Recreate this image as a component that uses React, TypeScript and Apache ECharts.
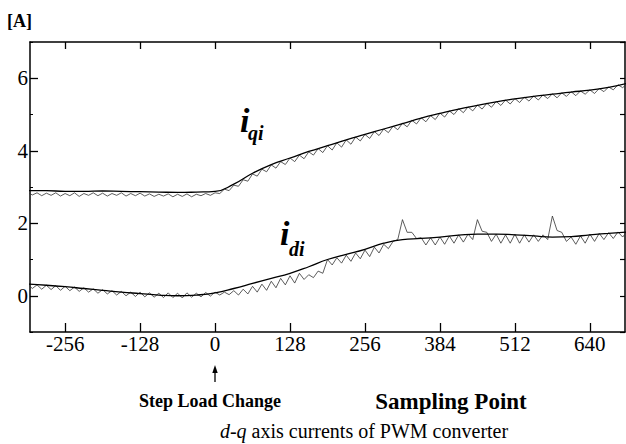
import React, { useEffect, useRef } from "react";
import * as echarts from "echarts";

// Sampling points for the reference (smooth) curves
const X_SMOOTH = [-320, -288, -256, -224, -192, -160, -128, -96, -64, -32, 0, 32, 64, 96, 128, 160, 192, 224, 256, 288, 320, 352, 384, 416, 448, 480, 512, 544, 576, 608, 640, 672, 704];

const IQ_SMOOTH = [2.90, 2.90, 2.88, 2.88, 2.89, 2.88, 2.87, 2.86, 2.85, 2.86, 2.88, 3.08, 3.38, 3.62, 3.80, 3.98, 4.14, 4.30, 4.45, 4.60, 4.75, 4.90, 5.03, 5.15, 5.25, 5.35, 5.43, 5.50, 5.56, 5.62, 5.67, 5.75, 5.86];

const ID_SMOOTH = [0.32, 0.29, 0.25, 0.20, 0.15, 0.10, 0.06, 0.02, 0.00, 0.02, 0.08, 0.20, 0.34, 0.48, 0.62, 0.80, 1.00, 1.14, 1.28, 1.45, 1.55, 1.58, 1.62, 1.67, 1.70, 1.70, 1.68, 1.65, 1.62, 1.63, 1.68, 1.72, 1.76];

// Measured (noisy) curves, sampled every 8 points from -320
const NOISY_START = -320;
const NOISY_STEP = 8;

const IQ_NOISY = [
  2.85, 2.78, 2.84, 2.76, 2.83, 2.77, 2.84, 2.75, 2.82, 2.76,
  2.84, 2.74, 2.82, 2.77, 2.84, 2.76, 2.83, 2.75, 2.82, 2.77,
  2.84, 2.75, 2.82, 2.76, 2.83, 2.75, 2.81, 2.74, 2.80, 2.75,
  2.81, 2.73, 2.80, 2.74, 2.81, 2.73, 2.80, 2.76, 2.82, 2.77,
  2.84,
  2.82, 2.94, 2.90, 3.05, 3.02, 3.20, 3.16, 3.36, 3.30, 3.49,
  3.42, 3.61, 3.52, 3.70, 3.62, 3.80, 3.70, 3.88, 3.78, 3.97,
  3.88, 4.06, 3.95, 4.14, 4.02, 4.22, 4.10, 4.30, 4.18, 4.38,
  4.27, 4.45, 4.34, 4.53, 4.42, 4.60, 4.50, 4.68, 4.58, 4.76,
  4.66, 4.84, 4.74, 4.91, 4.80, 4.97, 4.86, 5.04, 4.93, 5.10,
  5.00, 5.16, 5.05, 5.21, 5.10, 5.26, 5.15, 5.31, 5.20, 5.36,
  5.25, 5.40, 5.29, 5.44, 5.33, 5.48, 5.37, 5.51, 5.40, 5.54,
  5.44, 5.57, 5.46, 5.60, 5.50, 5.63, 5.52, 5.65, 5.56, 5.68,
  5.58, 5.72, 5.63, 5.76, 5.68, 5.82, 5.74, 5.86,
];

const ID_NOISY = [
  0.32, 0.20, 0.30, 0.18, 0.29, 0.17, 0.28, 0.15, 0.26, 0.14,
  0.24, 0.12, 0.22, 0.10, 0.19, 0.07, 0.17, 0.05, 0.14, 0.02,
  0.12, 0.00, 0.10, -0.02, 0.10, -0.03, 0.08, -0.04, 0.07, -0.05,
  0.08, -0.05, 0.07, -0.06, 0.08, -0.04, 0.07, -0.03, 0.09, -0.01,
  0.10,
  0.02, 0.10, 0.03, 0.14, 0.02, 0.18, 0.05, 0.26, 0.10, 0.32,
  0.15, 0.40, 0.22, 0.48, 0.30, 0.55, 0.35, 0.62, 0.45, 0.58,
  0.50, 0.68, 0.62, 1.00, 0.85, 1.05, 0.90, 1.12, 0.95, 1.18,
  1.02, 1.26, 1.08, 1.34, 1.18, 1.42, 1.30, 1.50, 1.55, 2.10,
  1.75, 1.75, 1.58, 1.60, 1.40, 1.60, 1.40, 1.62, 1.42, 1.65,
  1.45, 1.68, 1.48, 1.70, 1.55, 2.10, 1.78, 1.75, 1.50, 1.70,
  1.45, 1.68, 1.45, 1.70, 1.45, 1.68, 1.48, 1.68, 1.50, 1.68,
  1.55, 2.20, 1.80, 1.75, 1.50, 1.62, 1.42, 1.65, 1.45, 1.70,
  1.50, 1.72, 1.55, 1.74, 1.58, 1.76, 1.62, 1.78,
];

const X_TICKS = [-256, -128, 0, 128, 256, 384, 512, 640];
const Y_LABELS = [0, 2, 4, 6];

const SERIF = "'Liberation Serif', 'DejaVu Serif', serif";

export default function App() {
  const ref = useRef<HTMLDivElement>(null);

  useEffect(() => {
    if (!ref.current) return;
    const chart = echarts.init(ref.current, undefined, { renderer: "svg" });

    const pairs = (xs: number[], ys: number[]) => ys.map((v, i) => [xs[i], v]);
    const noisyX = IQ_NOISY.map((_, i) => NOISY_START + NOISY_STEP * i);

    const axisLine = { show: true, onZero: false, lineStyle: { color: "#000", width: 1.5 } };

    const option: any = {
      animation: false,
      backgroundColor: "#fff",
      grid: { left: 30, top: 42, width: 595, height: 290, containLabel: false },
      xAxis: [
        {
          type: "value",
          min: -316,
          max: 700,
          position: "bottom",
          axisLine,
          axisTick: { show: true, inside: true, length: 9, customValues: X_TICKS, lineStyle: { color: "#000", width: 1.3 } },
          axisLabel: { show: true, customValues: X_TICKS, margin: 1, fontFamily: SERIF, fontSize: 21, color: "#000" },
          splitLine: { show: false },
        },
        {
          type: "value",
          min: -316,
          max: 700,
          position: "top",
          axisLine,
          axisTick: { show: true, inside: true, length: 7, customValues: X_TICKS, lineStyle: { color: "#000", width: 1.3 } },
          axisLabel: { show: false },
          splitLine: { show: false },
        },
      ],
      yAxis: [
        {
          type: "value",
          min: -1,
          max: 7,
          interval: 1,
          position: "left",
          axisLine,
          axisTick: { show: true, inside: true, length: 3, lineStyle: { color: "#000", width: 1 } },
          axisLabel: { show: false },
          splitLine: { show: false },
        },
        {
          type: "value",
          min: -1,
          max: 7,
          position: "left",
          axisLine: { show: false, onZero: false },
          axisTick: { show: true, inside: true, length: 8, customValues: Y_LABELS, lineStyle: { color: "#000", width: 1.3 } },
          axisLabel: { show: true, customValues: Y_LABELS, margin: 2, fontFamily: SERIF, fontSize: 21, color: "#000" },
          splitLine: { show: false },
        },
        {
          type: "value",
          min: -1,
          max: 7,
          interval: 1,
          position: "right",
          axisLine,
          axisTick: { show: true, inside: true, length: 5, lineStyle: { color: "#000", width: 1.2 } },
          axisLabel: { show: false },
          splitLine: { show: false },
        },
      ],
      series: [
        {
          name: "iqi measured",
          type: "line",
          xAxisIndex: 0,
          yAxisIndex: 0,
          data: pairs(noisyX, IQ_NOISY),
          showSymbol: false,
          lineStyle: { color: "#333", width: 0.8 },
          z: 2,
        },
        {
          name: "idi measured",
          type: "line",
          xAxisIndex: 0,
          yAxisIndex: 0,
          data: pairs(noisyX, ID_NOISY),
          showSymbol: false,
          lineStyle: { color: "#333", width: 0.8 },
          z: 2,
        },
        {
          name: "iqi",
          type: "line",
          xAxisIndex: 0,
          yAxisIndex: 0,
          data: pairs(X_SMOOTH, IQ_SMOOTH),
          smooth: true,
          showSymbol: false,
          lineStyle: { color: "#000", width: 1.3 },
          z: 3,
        },
        {
          name: "idi",
          type: "line",
          xAxisIndex: 0,
          yAxisIndex: 0,
          data: pairs(X_SMOOTH, ID_SMOOTH),
          smooth: true,
          showSymbol: false,
          lineStyle: { color: "#000", width: 1.3 },
          z: 3,
        },
      ],
      graphic: [
        { type: "text", left: 7, top: 12, style: { text: "[A]", font: `bold 18px ${SERIF}`, fill: "#000" } },
        { type: "text", x: 240, y: 120, style: { text: "i", font: `italic bold 34px ${SERIF}`, fill: "#000", textVerticalAlign: "middle" } },
        { type: "text", x: 248, y: 133, style: { text: "qi", font: `italic bold 20px ${SERIF}`, fill: "#000", textVerticalAlign: "middle" } },
        { type: "text", x: 280, y: 233, style: { text: "i", font: `italic bold 34px ${SERIF}`, fill: "#000", textVerticalAlign: "middle" } },
        { type: "text", x: 289, y: 249, style: { text: "di", font: `italic bold 20px ${SERIF}`, fill: "#000", textVerticalAlign: "middle" } },
        { type: "line", shape: { x1: 215, y1: 371, x2: 215, y2: 382 }, style: { stroke: "#000", lineWidth: 1.3 } },
        { type: "polygon", shape: { points: [[215, 365], [212.3, 373], [217.7, 373]] }, style: { fill: "#000" } },
        { type: "text", x: 210, y: 401, style: { text: "Step Load Change", font: `bold 18px ${SERIF}`, fill: "#000", textAlign: "center", textVerticalAlign: "middle" } },
        { type: "text", x: 451, y: 401, style: { text: "Sampling Point", font: `bold 23px ${SERIF}`, fill: "#000", textAlign: "center", textVerticalAlign: "middle" } },
        {
          type: "text",
          x: 364,
          y: 431,
          style: {
            text: "{it|d-q} axis currents of PWM converter",
            font: `20px ${SERIF}`,
            fill: "#000",
            textAlign: "center",
            textVerticalAlign: "middle",
            rich: { it: { fontStyle: "italic", fontFamily: SERIF, fontSize: 20, fill: "#000" } },
          },
        },
      ],
    };

    chart.setOption(option);
    return () => chart.dispose();
  }, []);

  return (
    <div
      ref={ref}
      style={{ position: "fixed", left: 0, top: 0, width: 626, height: 444, background: "#fff" }}
    />
  );
}
